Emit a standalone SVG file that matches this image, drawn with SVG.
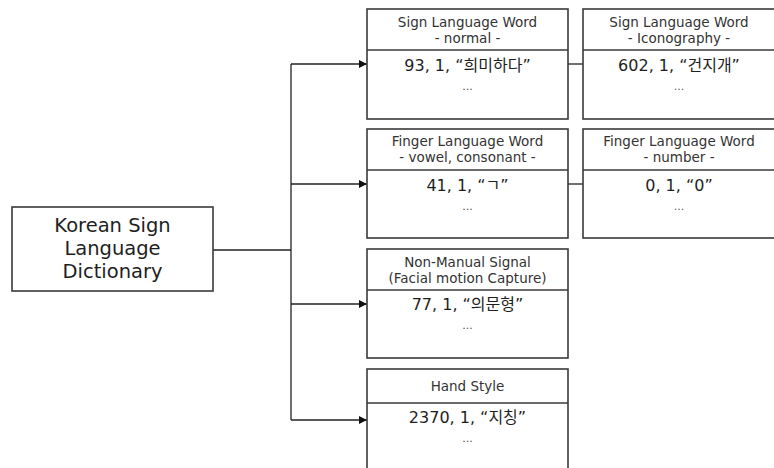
<svg xmlns="http://www.w3.org/2000/svg" width="774" height="468" viewBox="0 0 774 468">
  <defs>
    <marker id="arrow" viewBox="0 0 10 10" refX="10" refY="5" markerWidth="8" markerHeight="8" markerUnits="userSpaceOnUse" orient="auto">
      <path d="M0,0 L10,5 L0,10 z" fill="#111"/>
    </marker>
  </defs>
  <style>
    .box { fill: #ffffff; stroke: #3a3a3a; stroke-width: 1.6; }
    .div { stroke: #3a3a3a; stroke-width: 1.4; }
    .conn { fill: none; stroke: #222; stroke-width: 1.3; }
    text { font-family: "DejaVu Sans", "Noto Sans CJK KR", sans-serif; fill: #1e1e1e; text-anchor: middle; }
    .hd { font-size: 13.5px; fill: #333; }
    .ct { font-size: 16px; }
    .dots { font-size: 11px; fill: #555; }
    .main { font-size: 19.5px; }
  </style>

  <rect width="774" height="468" fill="#ffffff"/>

  <!-- connectors -->
  <g id="connectors">
    <path class="conn" d="M213,250 H291"/>
    <path class="conn" d="M291,64 V420"/>
    <path class="conn" d="M291,64 H367" marker-end="url(#arrow)"/>
    <path class="conn" d="M291,184 H367" marker-end="url(#arrow)"/>
    <path class="conn" d="M291,304 H367" marker-end="url(#arrow)"/>
    <path class="conn" d="M291,420 H367" marker-end="url(#arrow)"/>
    <path class="conn" d="M568,64 H583"/>
    <path class="conn" d="M568,184 H583"/>
  </g>

  <!-- root node -->
  <g id="dictionary">
    <rect class="box" x="12" y="207" width="201" height="84"/>
    <text class="main" x="112.5" y="232">Korean Sign</text>
    <text class="main" x="112.5" y="255">Language</text>
    <text class="main" x="112.5" y="278">Dictionary</text>
  </g>

  <g id="sign-normal">
    <rect class="box" x="367" y="9" width="201" height="110"/>
    <line class="div" x1="367" y1="50" x2="568" y2="50"/>
    <text class="hd" x="467.5" y="26.5">Sign Language Word</text>
    <text class="hd" x="467.5" y="42.5">- normal -</text>
    <text class="ct" x="467.5" y="71">93, 1, “희미하다”</text>
    <text class="dots" x="467.5" y="90">...</text>
  </g>

  <g id="sign-iconography">
    <rect class="box" x="583" y="9" width="194" height="110"/>
    <line class="div" x1="583" y1="50" x2="777" y2="50"/>
    <text class="hd" x="679" y="26.5">Sign Language Word</text>
    <text class="hd" x="679" y="42.5">- Iconography -</text>
    <text class="ct" x="679" y="71">602, 1, “건지개”</text>
    <text class="dots" x="679" y="90">...</text>
  </g>

  <g id="finger-vowel">
    <rect class="box" x="367" y="129" width="201" height="109"/>
    <line class="div" x1="367" y1="170" x2="568" y2="170"/>
    <text class="hd" x="467.5" y="145.5">Finger Language Word</text>
    <text class="hd" x="467.5" y="161.5">- vowel, consonant -</text>
    <text class="ct" x="467.5" y="191">41, 1, “ㄱ”</text>
    <text class="dots" x="467.5" y="210">...</text>
  </g>

  <g id="finger-number">
    <rect class="box" x="583" y="129" width="194" height="109"/>
    <line class="div" x1="583" y1="170" x2="777" y2="170"/>
    <text class="hd" x="679" y="145.5">Finger Language Word</text>
    <text class="hd" x="679" y="161.5">- number -</text>
    <text class="ct" x="679" y="191">0, 1, “0”</text>
    <text class="dots" x="679" y="210">...</text>
  </g>

  <g id="non-manual">
    <rect class="box" x="367" y="249" width="201" height="109"/>
    <line class="div" x1="367" y1="290" x2="568" y2="290"/>
    <text class="hd" x="467.5" y="266.5">Non-Manual Signal</text>
    <text class="hd" x="467.5" y="282.5">(Facial motion Capture)</text>
    <text class="ct" x="467.5" y="310">77, 1, “의문형”</text>
    <text class="dots" x="467.5" y="329">...</text>
  </g>

  <g id="hand-style">
    <rect class="box" x="367" y="369" width="201" height="104"/>
    <line class="div" x1="367" y1="403" x2="568" y2="403"/>
    <text class="hd" x="467.5" y="391">Hand Style</text>
    <text class="ct" x="467.5" y="423">2370, 1, “지칭”</text>
    <text class="dots" x="467.5" y="442">...</text>
  </g>
</svg>
